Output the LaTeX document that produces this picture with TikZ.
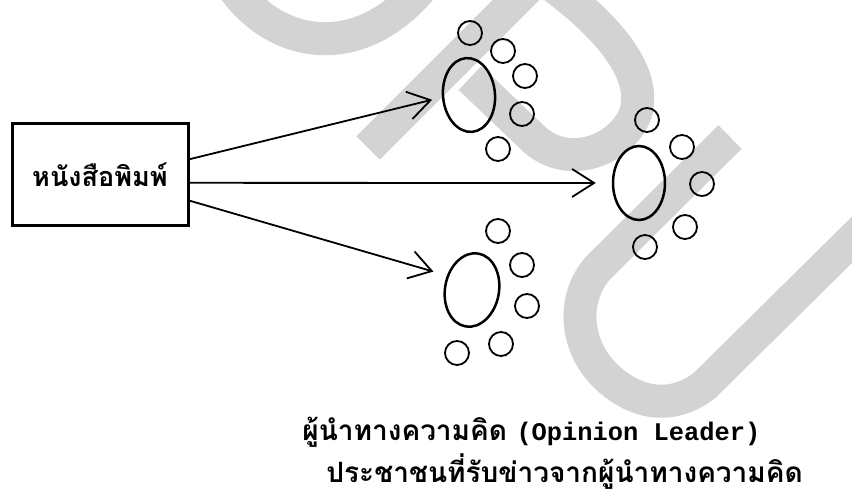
\documentclass[tikz,border=0pt]{standalone}
\usepackage{fontspec}
\usepackage{tikz}
\usetikzlibrary{arrows.meta}
\usetikzlibrary{shapes.geometric}

\newfontfamily\thaifont[Script=Thai]{Loma}
\newfontfamily\latinmono{Liberation Mono}
\definecolor{WaterGray}{RGB}{211,211,211}

\begin{document}
\begin{tikzpicture}[x=0.5pt, y=-0.5pt,
      lead/.style={ellipse, draw, line width=1.25pt, inner sep=0pt,
         minimum width=26pt, minimum height=37pt},
      folk/.style={circle, draw, line width=0.9pt, inner sep=0pt,
         minimum size=12pt},
      flow/.style={line width=0.9pt,
         -{Straight Barb[length=11pt,width=14pt]}},
      wmark/.style={WaterGray, line width=16.5pt}]
      \useasboundingbox (0,0) rectangle (852,502);

      % watermark behind everything
      \draw [wmark] (228,-20) .. controls (270,48) and (360,68) .. (428,-20);
      \draw [wmark] (368,148) -- (533,-17);
      \draw [wmark] (545,-20) .. controls (600,20) and (650,70) .. (635,115)
         .. controls (620,150) and (570,170) .. (535,140) -- (470,78);
      \draw [wmark] (730,137) -- (598,268)
         .. controls (570,300) and (575,350) .. (610,380)
         .. controls (645,410) and (680,405) .. (705,385) -- (870,222);

      \node (paper) at (100,175) [draw, line width=1.5pt, inner sep=0pt,
         minimum width=88pt, minimum height=51pt]
         {\thaifont\bfseries\fontsize{13.5}{16}\selectfont หนังสือพิมพ์};

      \node (L1) at (469,95) [lead, rotate=5] {};
      \node (L2) at (639,183) [lead] {};
      \node (L3) at (472,290) [lead, minimum width=27pt, rotate=-10] {};

      \node (a1) at (470,33) [folk] {};
      \node (a2) at (503,51) [folk] {};
      \node (a3) at (525,76) [folk] {};
      \node (a4) at (522,114) [folk] {};
      \node (a5) at (498,149) [folk] {};
      \node (b1) at (647,120) [folk] {};
      \node (b2) at (682,147) [folk] {};
      \node (b3) at (702,184) [folk] {};
      \node (b4) at (685,227) [folk] {};
      \node (b5) at (645,247) [folk] {};
      \node (c1) at (498,231) [folk] {};
      \node (c2) at (522,265) [folk] {};
      \node (c3) at (527,306) [folk] {};
      \node (c4) at (501,344) [folk] {};
      \node (c5) at (457,353) [folk] {};

      \draw [flow, shorten >=5pt] (paper.10) -- (L1.west);
      \draw [flow, shorten >=8pt] (paper.-5) -- (L2.west);
      \draw [flow, shorten >=7pt] (paper.-16) -- (L3.160);

      \node (opinion) at (302,440) [anchor=base west, inner sep=0pt]
         {\fontsize{14}{16}\selectfont\thaifont\bfseries ผู้นำทางความคิด
          \latinmono\bfseries\fontsize{12.7}{16}\selectfont (Opinion Leader)};
      \node (public) at (326,482) [anchor=base west, inner sep=0pt]
         {\fontsize{14}{16}\selectfont\thaifont\bfseries
          ประชาชนที่รับข่าวจากผู้นำทางความคิด};
   \end{tikzpicture}
\end{document}
